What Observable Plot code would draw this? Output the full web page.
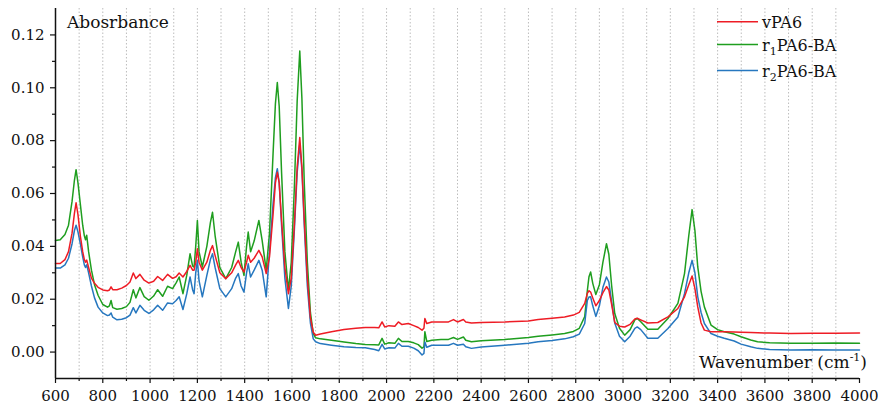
<!DOCTYPE html>
<html><head><meta charset="utf-8">
<script src="https://cdn.jsdelivr.net/npm/d3@7"></script>
<script src="https://cdn.jsdelivr.net/npm/@observablehq/plot@0.6"></script>
<style>
body{margin:0;background:#fff}
#chart svg{font-family:"DejaVu Serif",serif;overflow:visible}
</style>
</head><body><div id="chart"></div>
<script>
const wavenumbers = [600,620,640,655,670,680,687,695,705,715,722,727,732,740,752,765,780,800,820,828,835,842,860,880,900,915,929,940,957,975,995,1015,1032,1053,1074,1095,1110,1123,1139,1155,1169,1180,1186,1193,1200,1207,1221,1240,1255,1264,1275,1295,1320,1345,1362,1373,1385,1397,1408,1415,1425,1440,1460,1474,1491,1505,1520,1530,1538,1546,1556,1570,1585,1597,1610,1622,1633,1642,1652,1665,1678,1690,1700,1720,1767,1820,1870,1910,1950,1967,1981,1992,2010,2035,2050,2065,2092,2115,2134,2150,2158,2162,2170,2191,2230,2262,2283,2300,2325,2335,2359,2400,2500,2600,2641,2700,2753,2790,2815,2838,2849,2856,2863,2872,2885,2900,2915,2930,2940,2952,2965,2985,3007,3030,3050,3060,3075,3105,3147,3190,3232,3260,3278,3292,3304,3316,3330,3344,3372,3400,3428,3470,3499,3540,3569,3620,3710,3800,3900,4000];
const vPA6 = [0.0335,0.0335,0.0350,0.0380,0.0450,0.0525,0.0565,0.0520,0.0440,0.0380,0.0350,0.0340,0.0348,0.0320,0.0280,0.0260,0.0245,0.0235,0.0232,0.0235,0.0247,0.0236,0.0236,0.0242,0.0252,0.0265,0.0299,0.0278,0.0294,0.0272,0.0261,0.0268,0.0286,0.0271,0.0294,0.0279,0.0285,0.0299,0.0284,0.0305,0.0328,0.0310,0.0310,0.0340,0.0391,0.0340,0.0310,0.0340,0.0385,0.0403,0.0365,0.0300,0.0278,0.0300,0.0330,0.0347,0.0320,0.0303,0.0340,0.0366,0.0340,0.0355,0.0385,0.0360,0.0297,0.0360,0.0520,0.0640,0.0680,0.0640,0.0500,0.0320,0.0221,0.0280,0.0480,0.0700,0.0812,0.0700,0.0500,0.0280,0.0130,0.0075,0.0064,0.0068,0.0077,0.0085,0.0090,0.0093,0.0093,0.0092,0.0114,0.0095,0.0100,0.0098,0.0114,0.0104,0.0108,0.0100,0.0093,0.0083,0.0090,0.0127,0.0108,0.0114,0.0114,0.0114,0.0123,0.0114,0.0123,0.0114,0.0110,0.0112,0.0114,0.0118,0.0123,0.0128,0.0133,0.0140,0.0150,0.0184,0.0222,0.0232,0.0227,0.0205,0.0175,0.0195,0.0225,0.0248,0.0235,0.0180,0.0112,0.0098,0.0095,0.0105,0.0125,0.0128,0.0122,0.0110,0.0112,0.0133,0.0165,0.0209,0.0255,0.0288,0.0240,0.0171,0.0110,0.0083,0.0077,0.0077,0.0077,0.0076,0.0075,0.0074,0.0073,0.0072,0.0070,0.0071,0.0071,0.0072];
const r1PA6BA = [0.0422,0.0425,0.0445,0.0480,0.0570,0.0650,0.0690,0.0640,0.0560,0.0480,0.0440,0.0425,0.0442,0.0380,0.0310,0.0255,0.0215,0.0180,0.0170,0.0175,0.0195,0.0168,0.0162,0.0165,0.0172,0.0188,0.0236,0.0205,0.0244,0.0210,0.0196,0.0212,0.0236,0.0211,0.0249,0.0240,0.0262,0.0284,0.0221,0.0290,0.0372,0.0325,0.0322,0.0400,0.0498,0.0380,0.0322,0.0400,0.0490,0.0529,0.0440,0.0320,0.0278,0.0320,0.0380,0.0416,0.0340,0.0290,0.0400,0.0454,0.0380,0.0420,0.0498,0.0422,0.0310,0.0450,0.0750,0.0940,0.1020,0.0930,0.0680,0.0380,0.0234,0.0340,0.0620,0.0950,0.1139,0.0960,0.0640,0.0340,0.0150,0.0070,0.0054,0.0050,0.0045,0.0038,0.0032,0.0029,0.0028,0.0027,0.0052,0.0030,0.0035,0.0033,0.0052,0.0040,0.0040,0.0035,0.0028,0.0015,0.0020,0.0077,0.0040,0.0045,0.0048,0.0048,0.0055,0.0048,0.0057,0.0045,0.0039,0.0043,0.0048,0.0055,0.0060,0.0065,0.0070,0.0078,0.0090,0.0134,0.0232,0.0285,0.0303,0.0260,0.0218,0.0255,0.0340,0.0410,0.0370,0.0250,0.0146,0.0090,0.0064,0.0085,0.0122,0.0127,0.0115,0.0086,0.0086,0.0127,0.0184,0.0297,0.0440,0.0539,0.0460,0.0322,0.0230,0.0171,0.0102,0.0085,0.0077,0.0068,0.0058,0.0046,0.0039,0.0035,0.0033,0.0033,0.0034,0.0033];
const r2PA6BA = [0.0318,0.0318,0.0330,0.0355,0.0410,0.0460,0.0480,0.0455,0.0410,0.0360,0.0330,0.0320,0.0330,0.0300,0.0250,0.0205,0.0170,0.0148,0.0138,0.0140,0.0148,0.0132,0.0122,0.0124,0.0130,0.0140,0.0168,0.0148,0.0177,0.0158,0.0146,0.0160,0.0177,0.0158,0.0186,0.0183,0.0195,0.0209,0.0161,0.0220,0.0284,0.0235,0.0221,0.0300,0.0347,0.0270,0.0209,0.0290,0.0350,0.0372,0.0320,0.0240,0.0209,0.0240,0.0280,0.0297,0.0250,0.0227,0.0300,0.0334,0.0284,0.0310,0.0347,0.0310,0.0209,0.0380,0.0560,0.0660,0.0694,0.0640,0.0480,0.0280,0.0165,0.0250,0.0460,0.0680,0.0787,0.0690,0.0480,0.0250,0.0110,0.0050,0.0039,0.0032,0.0026,0.0020,0.0017,0.0016,0.0010,0.0005,0.0029,0.0012,0.0016,0.0015,0.0033,0.0022,0.0022,0.0015,0.0005,-0.0011,-0.0005,0.0038,0.0018,0.0026,0.0026,0.0026,0.0033,0.0026,0.0030,0.0020,0.0014,0.0019,0.0026,0.0033,0.0039,0.0044,0.0050,0.0058,0.0068,0.0108,0.0195,0.0208,0.0209,0.0175,0.0135,0.0175,0.0245,0.0284,0.0265,0.0190,0.0110,0.0060,0.0039,0.0060,0.0090,0.0095,0.0085,0.0052,0.0052,0.0089,0.0133,0.0221,0.0300,0.0347,0.0300,0.0209,0.0150,0.0108,0.0070,0.0060,0.0052,0.0042,0.0030,0.0020,0.0014,0.0010,0.0008,0.0009,0.0008,0.0008];
const seriesNames = ["vPA6", "r1PA6-BA", "r2PA6-BA"];
const seriesColors = ["#ee1c25", "#1f9e1f", "#2677bf"];
const xMajorTicks = d3.range(600, 4001, 200);
const xMinorTicks = d3.range(700, 4000, 200);
const gridTicks = d3.range(700, 4000, 100);
const yMajorTicks = [0, 0.02, 0.04, 0.06, 0.08, 0.10, 0.12];
const yMinorTicks = [0.01, 0.03, 0.05, 0.07, 0.09, 0.11];

const seriesValues = [vPA6, r1PA6BA, r2PA6BA];
const rows = [];
seriesNames.forEach((name, i) => {
  wavenumbers.forEach((w, j) => rows.push({series: name, w, a: seriesValues[i][j]}));
});
const drawOrder = ["r1PA6-BA", "r2PA6-BA", "vPA6"];
const ordered = drawOrder.flatMap(n => rows.filter(r => r.series === n));

const plot = Plot.plot({
  width: 878,
  height: 408,
  marginLeft: 55,
  marginRight: 19,
  marginTop: 8,
  marginBottom: 30,
  style: {fontFamily: "DejaVu Serif", fontSize: "15px", color: "#111", background: "#fff"},
  x: {domain: [600, 4000], label: null},
  y: {domain: [-0.01, 0.13], label: null},
  color: {domain: seriesNames, range: seriesColors},
  marks: [
    Plot.ruleX(gridTicks, {stroke: "#bdbdbd", strokeWidth: 1, strokeDasharray: "1.5,2"}),
    Plot.line(ordered, {x: "w", y: "a", z: "series", stroke: "series", strokeWidth: 1.5}),
    Plot.axisX({ticks: xMajorTicks, tickSize: 5, tickPadding: 7, tickFormat: d => String(d), stroke: "#111", strokeWidth: 1.2, fontSize: 15}),
    Plot.axisX({ticks: xMinorTicks, tickSize: 3, tickFormat: () => "", stroke: "#111", strokeWidth: 1.2}),
    Plot.axisY({ticks: yMajorTicks, tickSize: 5, tickPadding: 6, tickFormat: d3.format(".2f"), stroke: "#111", strokeWidth: 1.2, fontSize: 15}),
    Plot.axisY({ticks: yMinorTicks, tickSize: 3, tickFormat: () => "", stroke: "#111", strokeWidth: 1.2}),
    Plot.ruleY([-0.01], {stroke: "#111", strokeWidth: 1.5}),
    Plot.ruleX([600], {stroke: "#111", strokeWidth: 1.5})
  ]
});
document.getElementById("chart").appendChild(plot);

const svg = d3.select(plot);
svg.append("text").attr("x", 67).attr("y", 28).attr("font-size", 17).attr("fill", "#111")
  .attr("text-anchor", "start").text("Abosrbance");
const xl = svg.append("text").attr("x", 867).attr("y", 368).attr("font-size", 17).attr("fill", "#111").attr("text-anchor", "end");
xl.append("tspan").text("Wavenumber (cm");
xl.append("tspan").attr("font-size", 11).attr("dy", -7).text("-1");
xl.append("tspan").attr("dy", 7).text(")");

const legendY = [21.7, 44.5, 70.5];
const legendParts = [["vPA6", null, ""], ["r", "1", "PA6-BA"], ["r", "2", "PA6-BA"]];
legendParts.forEach((p, i) => {
  const y = legendY[i];
  svg.append("line").attr("x1", 717).attr("x2", 758).attr("y1", y).attr("y2", y)
    .attr("stroke", seriesColors[i]).attr("stroke-width", 1.5);
  const t = svg.append("text").attr("x", 762).attr("y", y + 6).attr("font-size", 16).attr("fill", "#111")
    .attr("text-anchor", "start");
  t.append("tspan").text(p[0]);
  if (p[1]) {
    t.append("tspan").attr("font-size", 11).attr("dy", 4).text(p[1]);
    t.append("tspan").attr("dy", -4).text(p[2]);
  }
});
</script>
</body></html>
